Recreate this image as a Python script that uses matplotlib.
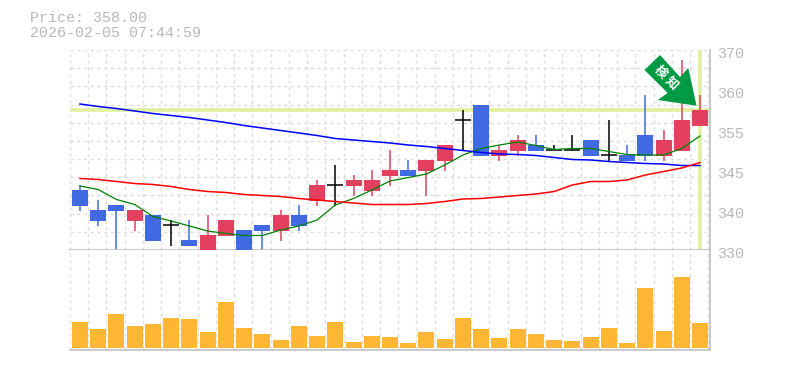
import numpy as np
import matplotlib
matplotlib.use("Agg")
import matplotlib.pyplot as plt
from matplotlib.patches import Polygon
from matplotlib.transforms import ScaledTranslation

title_lines = ["Price: 358.00", "2026-02-05 07:44:59"]
current_price = 358
date_idx = [4, 9, 14, 19, 24, 29, 34]
date_labels = ["12/19", "12/26", "1/7", "1/15", "1/22", "1/29", "2/5"]
date_shift = [3, 4.5, -1.5, 1, 1, 0.5, -1.5]
price_ticks = [330, 338, 346, 354, 362, 370]
price_labels = ["330", "340", "345", "355", "360", "370"]

opens = [342, 338, 339, 335.8, 337, 334.93, 332, 329.6, 332.8, 334, 335, 333.8, 337, 339.8, 342.93, 342.8, 341.8, 344.8,
         346, 345.8, 347.8, 355.93, 359, 348.8, 349.8, 351, 350, 350, 352, 348.93, 349, 353, 348.8, 349.8, 354.8]
closes = [338.8, 335.8, 337.8, 338, 331.8, 334.93, 330.8, 333, 336, 329, 333.8, 337, 334.8, 343, 342.93, 344, 344, 346,
          344.8, 348, 351, 355.93, 348.8, 350, 352, 349.8, 350, 350, 348.8, 348.93, 347.8, 348.8, 352, 356, 358]
highs = [343, 340, 339, 338, 337, 336, 336, 337, 336, 334, 335, 338, 339, 344, 347, 345, 346, 350,
         348, 348, 351, 358, 359, 351, 353, 353, 351, 353, 352, 356, 351, 361, 354, 368, 361]
lows = [337.8, 334.8, 330, 333.8, 331.8, 330.8, 330.8, 329.6, 332.8, 329, 330, 331.8, 333.8, 338.8, 338.8, 340.8, 340.8, 342.8,
        344.8, 340.8, 345.8, 349.8, 348.8, 347.8, 348.8, 349.8, 350, 350, 348.8, 347.8, 347.8, 347.8, 347.8, 349.8, 354.8]
ma_green = [342.8, 342.1, 340.1, 339.1, 336.7, 335.8, 334.8, 333.8, 333.3, 332.9, 332.9, 334, 334.8, 336, 339, 340.3, 342, 343.8,
            344.5, 345.2, 347, 349, 350.3, 351, 351.6, 350.9, 350.1, 350.3, 350.3, 349.7, 349.1, 349, 349, 350.3, 352.8]
ma_blue = [359.2, 358.7, 358.3, 357.8, 357.3, 356.9, 356.5, 356, 355.5, 354.9, 354.4, 353.9, 353.4, 352.9, 352.3, 352, 351.7, 351.4,
           351, 350.7, 350.3, 349.9, 349.5, 349.2, 349.1, 348.9, 348.5, 348.1, 348, 347.7, 347.5, 347.3, 347.2, 346.9, 346.9]
ma_red = [344.3, 344.1, 343.7, 343.3, 343.1, 342.7, 342.1, 341.7, 341.5, 341.1, 340.9, 340.7, 340.3, 340, 339.7, 339.4, 339.1, 339.1,
          339.1, 339.3, 339.7, 340.2, 340.3, 340.6, 340.9, 341.2, 341.7, 343, 343.7, 343.7, 344, 345, 345.7, 346.4, 347.5]
volumes = [26, 19, 34, 22, 24, 30, 29, 16, 46, 20, 14, 8, 22, 12, 26, 6, 12, 11,
           5, 16, 9, 30, 19, 10, 19, 14, 8, 7, 11, 20, 5, 60, 17, 71, 25]
arrow_px = [(660, 55), (644.5, 70), (667.7, 93), (657.7, 100), (696.5, 105.7), (688.3, 68), (680, 77)]
arrow_text = [("検", 660.5, 72), ("知", 672, 83)]

GRAY = "#b8b8b8"
GRID = "#dddddd"
UP = "#e34060"
DOWN = "#4169e1"
VOL = "#ffb733"
HL = "#e0f0a0"
W, H = 785, 370
MONO = ["Liberation Mono", "DejaVu Sans Mono"]

fig = plt.figure(figsize=(W / 100, H / 100), dpi=100)
ax = fig.add_axes([70 / W, 1 - 250 / H, 640 / W, 200 / H])
av = fig.add_axes([70 / W, 1 - 350 / H, 640 / W, 100 / H])
XL = (-0.548, 34.548)
n = len(opens)
x = np.arange(n)
BW = 0.875

for a in (ax, av):
    a.set_xlim(*XL)
    for s in ("top", "left"):
        a.spines[s].set_visible(False)
    for s in ("right", "bottom"):
        a.spines[s].set_color("#c0c0c0")
        a.spines[s].set_linewidth(1.2)
    a.vlines(XL[0] + np.arange(36), 0, 1, transform=a.get_xaxis_transform(), color=GRID,
             lw=1.0, linestyles=(0, (2.4, 2.4)), zorder=0)
    a.tick_params(length=0)
    a.set_xticks([])
    a.set_yticks([])

ax.set_ylim(330, 370)
ax.hlines(330 + np.arange(12) * 40 / 11, *XL, color=GRID, lw=1.0, linestyles=(0, (2.4, 2.4)), zorder=0)
ax.axhline(current_price, color=HL, lw=2.6, zorder=1)
ax.axvline(n - 1, color=HL, lw=2.6, zorder=1)

for i in range(n):
    o, c = opens[i], closes[i]
    col = UP if c > o else DOWN if c < o else "black"
    ax.vlines(x[i], lows[i], highs[i], color=col, lw=1.1, zorder=2)
    if o == c:
        ax.hlines(o, x[i] - BW / 2, x[i] + BW / 2, color=col, lw=1.1, zorder=2)
    else:
        ax.bar(x[i], abs(c - o), bottom=min(o, c), width=BW, color=col, lw=0, antialiased=False, zorder=3)

ax.plot(x, ma_green, color="#008000", lw=0.9, zorder=4)
ax.plot(x, ma_blue, color="#0000ff", lw=1.1, zorder=4)
ax.plot(x, ma_red, color="#ff0000", lw=1.1, zorder=4)

ax.yaxis.tick_right()
ax.set_yticks(price_ticks, price_labels, family=MONO, fontsize=10.8, color=GRAY)
ax.tick_params(axis="y", length=0, pad=5)
for lab in ax.get_yticklabels():
    lab.set_transform(lab.get_transform() + ScaledTranslation(0, -3 / 100, fig.dpi_scale_trans))

for idx, lab, dx in zip(date_idx, date_labels, date_shift):
    ax.annotate(lab, xy=(idx, 0), xycoords=ax.get_xaxis_transform(), xytext=(dx * 0.72, -11 * 0.72),
                textcoords="offset points", ha="center", va="center", family=MONO, fontsize=7.4,
                color=GRAY, annotation_clip=False)

av.bar(x, volumes, width=BW, color=VOL, lw=0, antialiased=False, zorder=3)
av.set_ylim(-2, 98)


def px(p):
    return (p[0] / W, 1 - p[1] / H)


fig.add_artist(Polygon([px(p) for p in arrow_px], closed=True, transform=fig.transFigure,
                       facecolor="#009944", edgecolor="none", zorder=10))
for ch, tx, ty in arrow_text:
    fig.text(tx / W, 1 - ty / H, ch, family=["Noto Sans CJK JP", "DejaVu Sans"], color="white", fontsize=9,
             fontweight="bold", rotation=-45, ha="center", va="center", zorder=11)

for line, ty in zip(title_lines, [18, 33]):
    fig.text(30 / W, 1 - ty / H, line, family=MONO, fontsize=10.8, color=GRAY, ha="left", va="center")

fig.savefig("out.png", dpi=100, facecolor="white")
